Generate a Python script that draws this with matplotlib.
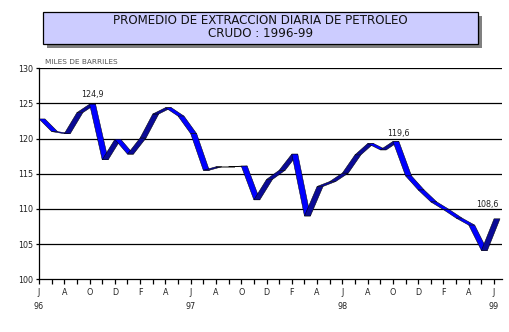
import matplotlib
matplotlib.use("Agg")
import matplotlib.pyplot as plt
from matplotlib.patches import Polygon, Rectangle

# Monthly average daily crude oil extraction, June 1996 - June 1999 (thousand barrels)
values = [122.8, 121.0, 120.7, 123.7, 124.9, 117.0, 119.9,
          117.8, 120.1, 123.5, 124.4, 123.2, 120.7, 115.5, 116.0, 116.0, 116.1, 111.3, 114.2,
          115.5, 117.8, 109.0, 113.2, 113.9, 115.1, 117.7, 119.3, 118.4, 119.6, 114.7, 112.7,
          111.0, 109.9, 108.7, 107.7, 104.1, 108.6]
tick_letters = ["J", "", "A", "", "O", "", "D", "", "F", "", "A", "",
                "J", "", "A", "", "O", "", "D", "", "F", "", "A", "",
                "J", "", "A", "", "O", "", "D", "", "F", "", "A", "", "J"]
year_labels = {0: "96", 12: "97", 24: "98", 36: "99"}
labelled = {4: "124,9", 28: "119,6", 36: "108,6"}
label_offsets = {4: (3, 10), 28: (5, 8), 36: (-7, 14.5)}   # pixels right / up
y_ticks = [100, 105, 110, 115, 120, 125, 130]

plt.rcParams["font.family"] = ["DejaVu Sans"]

W, H = 509, 332
fig = plt.figure(figsize=(W / 100, H / 100), dpi=100)
fig.patch.set_facecolor("white")

ax = fig.add_axes([39 / W, (H - 279.3) / H, 463 / W, 211 / H])
ax.set_xlim(0, 36.63)
ax.set_ylim(100, 130)

# horizontal grid
for v in y_ticks[1:]:
    ax.axhline(v, color="black", lw=0.9, zorder=1)

for s in ("top", "right"):
    ax.spines[s].set_visible(False)
for s in ("left", "bottom"):
    ax.spines[s].set_linewidth(0.9)

x = list(range(len(values)))
ax.set_xticks(x)
ax.set_xticklabels(tick_letters, fontsize=5.8, color="#222222")
ax.tick_params(axis="x", direction="out", length=3.6, width=0.9, pad=3)
ax.set_yticks(y_ticks)
ax.set_yticklabels([str(v) for v in y_ticks], fontsize=5.8, color="#222222")
ax.tick_params(axis="y", direction="out", length=2.2, width=0.9, pad=2)

for i, yl in year_labels.items():
    ax.text(i, -0.13, yl, transform=ax.get_xaxis_transform(), ha="center",
            va="center", fontsize=5.8, color="#222222")

# depth of the ribbon, converted from pixels to data units
p0 = ax.transData.transform((0, 100))
p1 = ax.transData.transform((1, 101))
depth_x = 6.0 / (p1[0] - p0[0])
depth_y = 0.0 / (p1[1] - p0[1])

for i in range(len(values) - 1):
    x0, x1 = x[i], x[i + 1]
    y0, y1 = values[i], values[i + 1]
    face = "#0a0a96" if y1 > y0 else "#0000ff"
    poly = Polygon([(x0, y0), (x1, y1), (x1 + depth_x, y1 + depth_y),
                    (x0 + depth_x, y0 + depth_y)], closed=True,
                   facecolor=face, edgecolor="black", lw=0.35, zorder=3,
                   clip_on=False)
    ax.add_patch(poly)

for i, txt in labelled.items():
    dx, dy = label_offsets[i]
    ax.annotate(txt, xy=(i, values[i]), xytext=(dx * 0.72, dy * 0.72),
                textcoords="offset points", ha="center", va="center",
                fontsize=5.8, color="#222222")

# unit caption
fig.text(45 / W, 1 - 62 / H, "MILES DE BARRILES", fontsize=5.3,
         color="#555555", ha="left", va="center")

# title box with drop shadow
fig.patches.append(Rectangle((47 / W, 1 - 48.3 / H), 435 / W, 32.6 / H,
                             transform=fig.transFigure, facecolor="#808080",
                             edgecolor="none", zorder=0))
fig.patches.append(Rectangle((43 / W, 1 - 44.3 / H), 435 / W, 32.6 / H,
                             transform=fig.transFigure, facecolor="#ccccff",
                             edgecolor="black", lw=0.9, zorder=1))
fig.text(260.5 / W, 1 - 20.8 / H, "PROMEDIO DE EXTRACCION DIARIA DE PETROLEO",
         fontsize=8.6, ha="center", va="center", color="#111111")
fig.text(260.5 / W, 1 - 33.5 / H, "CRUDO : 1996-99",
         fontsize=8.6, ha="center", va="center", color="#111111")

fig.savefig("out.png", dpi=100)
